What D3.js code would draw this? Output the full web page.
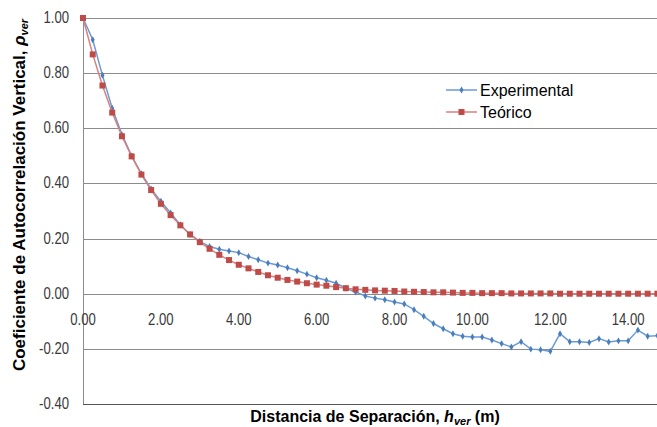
<!DOCTYPE html>
<html>
<head>
<meta charset="utf-8">
<script src="https://cdn.jsdelivr.net/npm/d3@7"></script>
<style>
  body { margin: 0; background: #fff; }
  svg { display: block; }
  text { font-family: "Liberation Sans", Arial, sans-serif; }
</style>
</head>
<body>
<script>
// separation distance (m)
const distances = [
  0.00, 0.25, 0.50, 0.75, 1.00, 1.25, 1.50, 1.75, 2.00, 2.25, 2.50, 2.75,
  3.00, 3.25, 3.50, 3.75, 4.00, 4.25, 4.50, 4.75, 5.00, 5.25, 5.50, 5.75,
  6.00, 6.25, 6.50, 6.75, 7.00, 7.25, 7.50, 7.75, 8.00, 8.25, 8.50, 8.75,
  9.00, 9.25, 9.50, 9.75, 10.00, 10.25, 10.50, 10.75, 11.00, 11.25, 11.50, 11.75,
  12.00, 12.25, 12.50, 12.75, 13.00, 13.25, 13.50, 13.75, 14.00, 14.25, 14.50, 14.75
];
const experimental = [
  1.000, 0.921, 0.792, 0.673, 0.577, 0.500, 0.435, 0.380, 0.335, 0.293, 0.250, 0.215,
  0.190, 0.171, 0.161, 0.155, 0.149, 0.135, 0.123, 0.111, 0.104, 0.094, 0.083, 0.071,
  0.058, 0.049, 0.038, 0.020, 0.006, -0.008, -0.016, -0.022, -0.030, -0.037, -0.058, -0.082,
  -0.108, -0.127, -0.145, -0.154, -0.157, -0.157, -0.168, -0.181, -0.193, -0.174, -0.201, -0.203,
  -0.209, -0.145, -0.174, -0.174, -0.177, -0.163, -0.175, -0.171, -0.171, -0.132, -0.154, -0.152
];
const teorico = [
  1.000, 0.868, 0.755, 0.657, 0.571, 0.498, 0.432, 0.376, 0.326, 0.285, 0.248, 0.215,
  0.187, 0.163, 0.141, 0.122, 0.105, 0.092, 0.079, 0.067, 0.058, 0.050, 0.044, 0.038,
  0.033, 0.029, 0.024, 0.020, 0.016, 0.014, 0.012, 0.011, 0.010, 0.008, 0.007, 0.006,
  0.005, 0.005, 0.004, 0.003, 0.003, 0.002, 0.002, 0.002, 0.001, 0.001, 0.001, 0.001,
  0.001, 0.000, 0.000, 0.000, 0.000, 0.000, 0.000, 0.000, 0.000, 0.000, 0.000, 0.000
];
const xTicks = [0, 2, 4, 6, 8, 10, 12, 14];
const yTicks = [-0.4, -0.2, 0, 0.2, 0.4, 0.6, 0.8, 1.0];

const W = 657, H = 427;
const svg = d3.select('body').append('svg').attr('width', W).attr('height', H);

const x = d3.scaleLinear().domain([0, 14.74]).range([83, 657]);
const y = d3.scaleLinear().domain([-0.4, 1.0]).range([404, 18]);
const fmt = d => d.toFixed(2);   // keeps the plain hyphen of the original

// gridlines
svg.append('g').selectAll('line')
  .data(yTicks.filter(d => d > -0.4))
  .enter().append('line')
  .attr('x1', x(0)).attr('x2', W)
  .attr('y1', d => Math.round(y(d)) + 0.5).attr('y2', d => Math.round(y(d)) + 0.5)
  .style('stroke', '#8c8c8c').style('stroke-width', '1px');

// plot border (left + bottom)
svg.append('line')
  .attr('x1', x(0) + 0.5).attr('x2', x(0) + 0.5)
  .attr('y1', y(1.0)).attr('y2', y(-0.4))
  .style('stroke', '#8c8c8c').style('stroke-width', '1px');
svg.append('line')
  .attr('x1', x(0)).attr('x2', W)
  .attr('y1', Math.round(y(-0.4)) + 0.5).attr('y2', Math.round(y(-0.4)) + 0.5)
  .style('stroke', '#555').style('stroke-width', '1px');

// y tick labels (narrowed like the original)
svg.append('g').selectAll('text')
  .data(yTicks)
  .enter().append('text')
  .attr('transform', d => `translate(69,${y(d) + 5}) scale(0.82,1)`)
  .attr('text-anchor', 'end')
  .style('font-size', '16px').style('fill', '#3a3a3a')
  .text(fmt);

// x tick labels, next to the axis crossing at zero
svg.append('g').selectAll('text')
  .data(xTicks)
  .enter().append('text')
  .attr('transform', d => `translate(${x(d)},${y(0) + 31}) scale(0.82,1)`)
  .attr('text-anchor', 'middle')
  .style('font-size', '16px').style('fill', '#3a3a3a')
  .text(fmt);

const line = d3.line().x((d, i) => x(distances[i])).y(d => y(d));

// Experimental
svg.append('path').datum(experimental)
  .attr('d', line).attr('fill', 'none')
  .style('stroke', '#6b9bd7').style('stroke-width', '1.5px');
svg.append('g').selectAll('path')
  .data(experimental).enter().append('path')
  .attr('d', d3.symbol(d3.symbolDiamond, 14))
  .attr('transform', (d, i) => `translate(${x(distances[i])},${y(d)})`)
  .style('fill', '#4a7ebb');

// Teórico
svg.append('path').datum(teorico)
  .attr('d', line).attr('fill', 'none')
  .style('stroke', '#d9807e').style('stroke-width', '1.5px');
svg.append('g').selectAll('rect')
  .data(teorico).enter().append('rect')
  .attr('x', (d, i) => x(distances[i]) - 3).attr('y', d => y(d) - 3)
  .attr('width', 6).attr('height', 6)
  .style('fill', '#be4b48');

// legend
const legend = svg.append('g');
const items = [['Experimental', '#6b9bd7', '#4a7ebb', 'd'], ['Teórico', '#d9807e', '#be4b48', 's']];
items.forEach((it, k) => {
  const ly = 90 + k * 22;
  legend.append('line').attr('x1', 446).attr('x2', 477).attr('y1', ly).attr('y2', ly)
    .style('stroke', it[1]).style('stroke-width', '1.5px');
  if (it[3] === 'd') {
    legend.append('path').attr('d', d3.symbol(d3.symbolDiamond, 14))
      .attr('transform', `translate(461.5,${ly})`).style('fill', it[2]);
  } else {
    legend.append('rect').attr('x', 458.5).attr('y', ly - 3).attr('width', 6).attr('height', 6)
      .style('fill', it[2]);
  }
  legend.append('text').attr('x', 480).attr('y', ly + 6)
    .style('font-size', '16px').style('fill', '#000').text(it[0]);
});

// axis titles
const xt = svg.append('text')
  .attr('x', 375).attr('y', 422)
  .attr('text-anchor', 'middle')
  .style('font-size', '16px').style('font-weight', 'bold').style('fill', '#000');
xt.append('tspan').text('Distancia de Separación, ');
xt.append('tspan').style('font-style', 'italic').text('h');
xt.append('tspan').style('font-style', 'italic').style('font-size', '11px').attr('dy', 3).text('ver');
xt.append('tspan').attr('dy', -3).text(' (m)');

const yt = svg.append('text')
  .attr('transform', 'translate(25,195) rotate(-90)')
  .attr('text-anchor', 'middle')
  .style('font-size', '17px').style('font-weight', 'bold').style('fill', '#000');
yt.append('tspan').text('Coeficiente de Autocorrelación Vertical, ');
yt.append('tspan').style('font-style', 'italic').text('ρ');
yt.append('tspan').style('font-style', 'italic').style('font-size', '11px').attr('dy', 3).text('ver');
</script>
</body>
</html>
